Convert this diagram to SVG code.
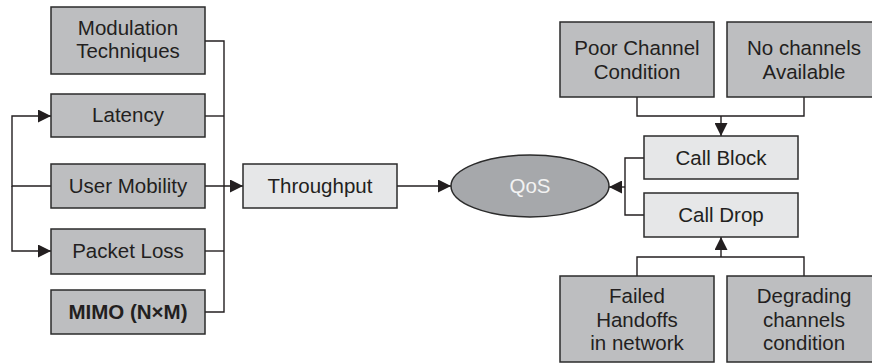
<svg xmlns="http://www.w3.org/2000/svg" width="872" height="363" viewBox="0 0 872 363">
<style>
.dk{fill:#bdbec0;stroke:#2b2b2b;stroke-width:1.5}
.lt{fill:#e6e7e8;stroke:#2b2b2b;stroke-width:1.5}
.el{fill:#a6a8ab;stroke:#2b2b2b;stroke-width:1.5}
text{font-family:"Liberation Sans",Arial,sans-serif;font-size:20.5px;fill:#231f20;text-anchor:middle}
.w{fill:#f2f2f2}
.b{font-weight:bold}
.c{fill:none;stroke:#231f20;stroke-width:1.4}
</style>
<defs>
<marker id="ah" viewBox="0 0 13 13" refX="13" refY="6.5" markerWidth="13" markerHeight="13" markerUnits="userSpaceOnUse" orient="auto">
<path d="M0,0 L13,6.5 L0,13 z" fill="#231f20"/>
</marker>
</defs>
<rect width="872" height="363" fill="#fff"/>
<g id="connectors">
<path class="c" d="M205,41 H224 V312 H205"/>
<path class="c" d="M205,116 H224"/>
<path class="c" d="M205,251 H224"/>
<path class="c" d="M205,186 H243" marker-end="url(#ah)"/>
<path class="c" d="M51,186 H12 V116 H51" marker-end="url(#ah)"/>
<path class="c" d="M12,186 V251 H51" marker-end="url(#ah)"/>
<path class="c" d="M397,186 H451" marker-end="url(#ah)"/>
<path class="c" d="M637,97 V116 H804 V97"/>
<path class="c" d="M721,116 V136" marker-end="url(#ah)"/>
<path class="c" d="M644,158 H625 V215 H644"/>
<path class="c" d="M625,187 H609" marker-end="url(#ah)"/>
<path class="c" d="M637,276 V257 H804 V276"/>
<path class="c" d="M721,257 V237" marker-end="url(#ah)"/>
</g>
<g id="modulation"><rect class="dk" x="51" y="7" width="154" height="67"/><text x="128" y="35">Modulation</text><text x="128" y="58">Techniques</text></g>
<g id="latency"><rect class="dk" x="51" y="94" width="154" height="43"/><text x="128" y="122">Latency</text></g>
<g id="usermobility"><rect class="dk" x="51" y="164" width="154" height="44"/><text x="128" y="193">User Mobility</text></g>
<g id="packetloss"><rect class="dk" x="51" y="229" width="154" height="45"/><text x="128" y="258">Packet Loss</text></g>
<g id="mimo"><rect class="dk" x="51" y="290" width="154" height="44"/><text class="b" x="128" y="319">MIMO (N×M)</text></g>
<g id="throughput"><rect class="lt" x="243" y="164" width="154" height="44"/><text x="320" y="193">Throughput</text></g>
<g id="qos"><ellipse class="el" cx="530" cy="186" rx="79" ry="31"/><text class="w" x="530" y="193">QoS</text></g>
<g id="poorchannel"><rect class="dk" x="560" y="22" width="154" height="75"/><text x="637" y="55">Poor Channel</text><text x="637" y="79">Condition</text></g>
<g id="nochannels"><rect class="dk" x="727" y="22" width="154" height="75"/><text x="804" y="55">No channels</text><text x="804" y="79">Available</text></g>
<g id="callblock"><rect class="lt" x="644" y="136" width="154" height="43"/><text x="721" y="165">Call Block</text></g>
<g id="calldrop"><rect class="lt" x="644" y="193" width="154" height="44"/><text x="721" y="222">Call Drop</text></g>
<g id="failedhandoffs"><rect class="dk" x="560" y="276" width="154" height="86"/><text x="637" y="303">Failed</text><text x="637" y="327">Handoffs</text><text x="637" y="350">in network</text></g>
<g id="degrading"><rect class="dk" x="727" y="276" width="154" height="86"/><text x="804" y="303">Degrading</text><text x="804" y="327">channels</text><text x="804" y="350">condition</text></g>
</svg>
